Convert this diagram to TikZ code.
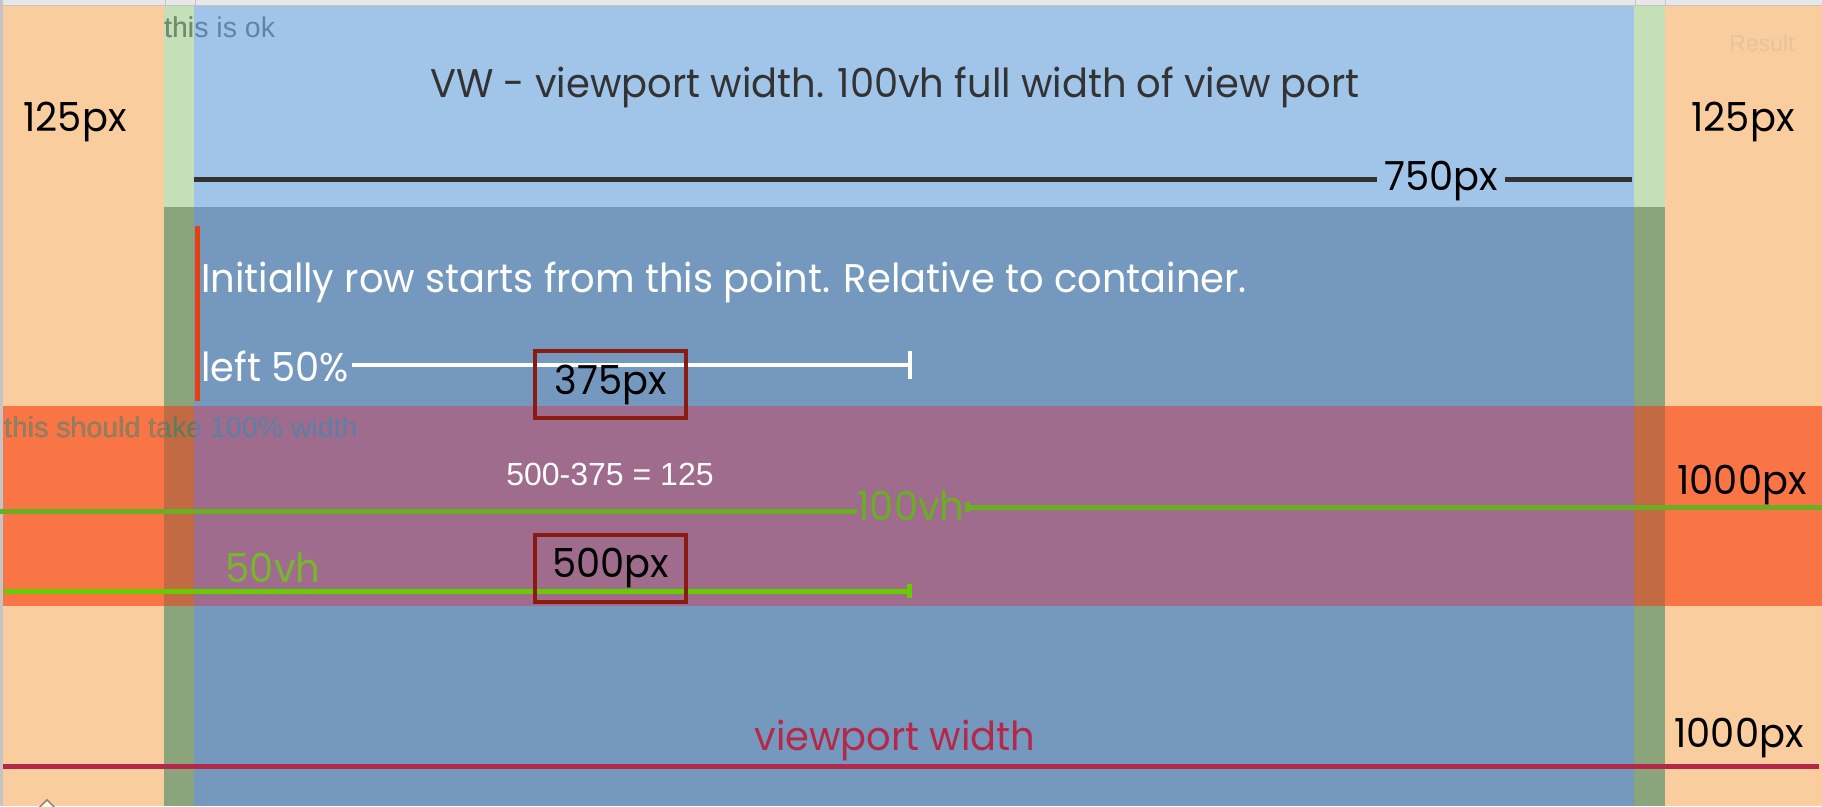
\documentclass[tikz,border=0pt]{standalone}
\usepackage{fontspec}
\setmainfont{Liberation Sans}
\newfontfamily\gothic[FakeStretch=0.96]{Poppins}
\usetikzlibrary{arrows.meta}
\definecolor{peach}{HTML}{F9CD9E}
\definecolor{lgreen}{HTML}{C5DFB9}
\definecolor{lblue}{HTML}{A1C4E9}
\definecolor{dblue}{HTML}{7599BE}
\definecolor{dgreen}{HTML}{8AA57C}
\definecolor{bandorange}{HTML}{F97546}
\definecolor{bandgreen}{HTML}{C26A43}
\definecolor{bandblue}{HTML}{A06C8E}
\definecolor{redline}{HTML}{E8400C}
\definecolor{boxred}{HTML}{8B1A10}
\definecolor{crimson}{HTML}{B4284A}
\definecolor{greenA}{HTML}{6AAE23}
\definecolor{greenB}{HTML}{66CC00}
\definecolor{greenT}{HTML}{78B62E}
\definecolor{darktext}{HTML}{333333}
\definecolor{okgreen}{HTML}{6E8E68}
\definecolor{okblue}{HTML}{5E84AA}
\definecolor{wbrown}{HTML}{9A7E5C}
\definecolor{wgreen}{HTML}{5F7C55}
\definecolor{wblue}{HTML}{5B80A4}
\definecolor{faint}{HTML}{E7C39C}
\definecolor{frame}{HTML}{C4C4C4}
\tikzset{
  gothictxt/.style={font=\gothic\fontsize{40}{40}\selectfont, inner sep=0pt},
  helv/.style={font=\fontsize{28.5}{28.5}\selectfont, inner sep=0pt},
  mbox/.style={draw=boxred, line width=3.5pt, minimum width=151pt, minimum height=67pt, inner sep=0pt, font=\gothic\fontsize{40}{40}\selectfont},
  measure/.style={line width=4pt},
}
\begin{document}
\begin{tikzpicture}[x=1pt,y=-1pt]
\useasboundingbox (0,0) rectangle (1822,806);
% frame
\fill[white] (0,0) rectangle (1822,806);
\fill[frame!40] (0,0) rectangle (1822,5);
\draw[frame, line width=1pt] (0,5.5) -- (1822,5.5);
\foreach \xx in {165,195,1635,1665} \draw[frame, line width=1pt] (\xx,0) -- (\xx,5);
\fill[frame] (0,0) rectangle (3,806);
% columns
\fill[peach] (3,6) rectangle (164,806);
\fill[lgreen] (164,6) rectangle (194,207);
\fill[dgreen] (164,207) rectangle (194,806);
\fill[lblue] (194,6) rectangle (1634,207);
\fill[dblue] (194,207) rectangle (1634,806);
\fill[lgreen] (1634,6) rectangle (1665,207);
\fill[dgreen] (1634,207) rectangle (1665,806);
\fill[peach] (1665,6) rectangle (1822,806);
% band
\fill[bandorange] (3,406) rectangle (164,606);
\fill[bandgreen] (164,406) rectangle (194,606);
\fill[bandblue] (194,406) rectangle (1634,606);
\fill[bandgreen] (1634,406) rectangle (1665,606);
\fill[bandorange] (1665,406) rectangle (1822,606);

% top texts
\node[helv, anchor=west, text=okblue] (ok1) at (164,27) {this is ok};
\begin{scope}
\clip (0,0) rectangle (194,100);
\node[helv, anchor=west, text=okgreen] (ok2) at (164,27) {this is ok};
\end{scope}
\node[font=\fontsize{23}{23}\selectfont, inner sep=0pt, text=faint] (result) at (1762,43) {Result};
\node[gothictxt, text=black] (l125) at (75,122) {125px};
\node[gothictxt, text=black] (r125) at (1743,122) {125px};
\node[gothictxt, text=darktext] (vw) at (895,87) {VW - viewport width. 100vh full width of view port};

% 750 line
\node[gothictxt, text=black, inner xsep=7pt] (t750) at (1441,181) {750px};
\coordinate (a750) at (194,179);
\coordinate (b750) at (1632,179);
\draw[darktext, line width=5pt] (a750) -- (a750 -| t750.west);
\draw[darktext, line width=5pt] (b750 -| t750.east) -- (b750);

% row start
\coordinate (rs1) at (197.5,226);
\coordinate (rs2) at (197.5,401);
\draw[redline, line width=5pt] (rs1) -- (rs2);
\node[gothictxt, text=white, anchor=west] (init) at (201,282) {Initially row starts from this point. Relative to container.};
\node[gothictxt, text=white, anchor=west] (left50) at (201,366) {left 50\%};
\coordinate (w1) at (352,365);
\coordinate (w2) at (912,365);
\draw[white, measure, -{Bar[width=28pt]}] (w1) -- (w2);
\node[mbox] (b375) at (610.5,384.5) {375px};

% band texts
\node[helv, anchor=west, text=wblue] (w100a) at (4,427) {this should take 100\% width};
\begin{scope}
\clip (0,380) rectangle (194,470);
\node[helv, anchor=west, text=wgreen] (w100b) at (4,427) {this should take 100\% width};
\end{scope}
\begin{scope}
\clip (0,380) rectangle (164,470);
\node[helv, anchor=west, text=wbrown] (w100c) at (4,427) {this should take 100\% width};
\end{scope}
\node[font=\fontsize{32}{32}\selectfont, inner sep=0pt, text=white] (calc) at (610,474) {500-375 = 125};

% 100vh
\node[gothictxt, text=greenA] (t100) at (911,506) {100vh};
\coordinate (g1) at (0,511);
\coordinate (g2) at (1822,507);
\draw[greenA, line width=5pt] (g1) -- (g1 -| t100.west);
\draw[greenA, line width=5pt, {Bar[width=10pt, length=2pt]}-] (g2 -| t100.east) -- (g2);
\node[gothictxt, text=black] (u1000) at (1742,485) {1000px};

% 50vh
\node[gothictxt, text=greenT] (t50) at (273,568) {50vh};
\coordinate (h1) at (4,591);
\coordinate (h2) at (912,591);
\draw[greenB, line width=5pt, -{Bar[width=14pt]}] (h1) -- (h2);
\node[mbox] (b500) at (610.5,568.5) {500px};

% viewport width
\node[gothictxt, text=crimson] (vpw) at (895,740) {viewport width};
\node[gothictxt, text=black] (l1000) at (1739,738) {1000px};
\coordinate (v1) at (3,766);
\coordinate (v2) at (1819,766);
\draw[crimson, line width=5pt] (v1) -- (v2);

% small icon
\node[draw=gray, fill=yellow!12, line width=1.5pt, minimum size=13pt, rotate=45, inner sep=0pt] (icon) at (47,809) {};
\end{tikzpicture}
\end{document}
